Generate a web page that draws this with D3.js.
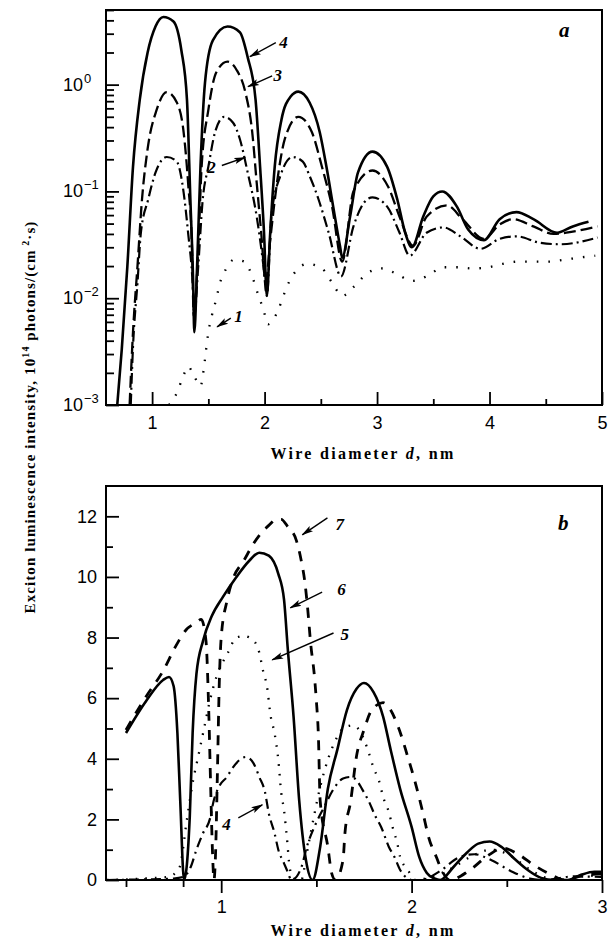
<!DOCTYPE html>
<html>
<head>
<meta charset="utf-8">
<script src="https://cdn.jsdelivr.net/npm/d3@7"></script>
<style>
body { margin: 0; background: #fff; }
text { font-family: "Liberation Sans", Arial, sans-serif; font-size: 18px; fill: #000; }
.title { font-family: "Liberation Serif", "Times New Roman", serif; font-weight: bold; }
.num { font-family: "Liberation Serif", "Times New Roman", serif; font-style: italic; font-weight: bold; font-size: 17px; }
</style>
</head>
<body>
<div id="chart"></div>
<script>
// ---- panel a (log scale), curves 1-4 ----
var aX1 = [1.15,1.22,1.28,1.32,1.37,1.43,1.46,1.48,1.50,1.53,1.57,1.60,1.66,1.73,1.82,1.89,1.94,1.99,2.03,2.12,2.17,2.22,2.30,2.38,2.51,2.60,2.69,2.80,2.91,3.04,3.17,3.31,3.44,3.59,3.72,3.85,3.99,4.12,4.25,4.39,4.52,4.67,4.80,4.94];
var aY1 = [0.001,0.0013,0.0019,0.0023,0.0019,0.0015,0.0022,0.0033,0.0048,0.0068,0.0098,0.0135,0.019,0.023,0.022,0.016,0.011,0.0078,0.0057,0.0077,0.0107,0.0144,0.019,0.021,0.019,0.014,0.0105,0.013,0.017,0.019,0.017,0.0145,0.016,0.0195,0.0195,0.019,0.0195,0.021,0.022,0.022,0.022,0.023,0.024,0.025];

var aX2 = [0.81,0.83,0.87,0.90,0.965,1.03,1.13,1.22,1.28,1.32,1.36,1.375,1.41,1.45,1.50,1.56,1.64,1.72,1.78,1.85,1.93,1.99,2.02,2.06,2.14,2.25,2.34,2.40,2.48,2.57,2.68,2.79,2.91,2.96,3.09,3.20,3.29,3.44,3.59,3.74,3.92,4.09,4.24,4.45,4.63,4.96];
var aY2 = [0.001,0.0035,0.014,0.041,0.084,0.15,0.21,0.19,0.098,0.041,0.014,0.0068,0.02,0.084,0.17,0.36,0.5,0.44,0.31,0.15,0.058,0.02,0.0105,0.058,0.14,0.21,0.19,0.14,0.084,0.041,0.016,0.047,0.084,0.088,0.072,0.041,0.025,0.041,0.046,0.038,0.029,0.036,0.038,0.033,0.032,0.037];

var aX3 = [0.80,0.83,0.87,0.91,0.96,1.04,1.13,1.22,1.28,1.32,1.355,1.37,1.41,1.44,1.50,1.57,1.67,1.75,1.83,1.89,1.93,1.97,2.01,2.05,2.11,2.18,2.30,2.42,2.51,2.60,2.69,2.79,2.96,3.10,3.20,3.32,3.44,3.62,3.76,3.95,4.09,4.21,4.39,4.57,4.74,4.96];
var aY3 = [0.001,0.0048,0.02,0.084,0.25,0.58,0.85,0.68,0.36,0.12,0.029,0.0068,0.029,0.17,0.58,1.3,1.64,1.38,0.84,0.36,0.12,0.041,0.014,0.035,0.12,0.31,0.5,0.36,0.17,0.072,0.022,0.1,0.157,0.11,0.058,0.031,0.058,0.074,0.055,0.036,0.049,0.055,0.047,0.040,0.042,0.047];

var aX4 = [0.69,0.73,0.78,0.83,0.89,0.96,1.03,1.10,1.19,1.26,1.31,1.34,1.365,1.375,1.40,1.43,1.47,1.54,1.67,1.78,1.85,1.92,1.96,1.995,2.02,2.05,2.09,2.15,2.23,2.30,2.40,2.49,2.55,2.61,2.67,2.69,2.76,2.83,2.96,3.09,3.18,3.25,3.31,3.41,3.50,3.58,3.71,3.81,3.95,4.09,4.24,4.39,4.60,4.74,4.88];
var aY4 = [0.001,0.0033,0.020,0.17,0.72,2.0,3.5,4.3,3.9,2.1,0.72,0.085,0.014,0.0048,0.02,0.17,1.04,2.6,3.5,3.1,1.8,0.72,0.17,0.041,0.0105,0.041,0.17,0.47,0.77,0.86,0.68,0.36,0.17,0.072,0.031,0.024,0.058,0.15,0.236,0.17,0.084,0.041,0.030,0.058,0.09,0.1,0.072,0.044,0.035,0.055,0.064,0.055,0.041,0.047,0.052];

// ---- panel b (linear), curves 4-7 ----
var bX4 = [0.4,0.6,0.75,0.80,0.84,0.87,0.905,0.94,0.96,0.99,1.03,1.06,1.13,1.17,1.20,1.23,1.25,1.28,1.30,1.33,1.345,1.37,1.42,1.45,1.50,1.54,1.59,1.64,1.68,1.71,1.74,1.775,1.81,1.84,1.88,1.91,1.94,1.98,2.0,2.05,2.15,2.25,2.33,2.42,2.52,2.62,2.7,2.85,3.0];
var bY4 = [0,0.02,0.05,0.1,0.43,1.0,1.55,2.0,2.6,3.1,3.4,3.7,4.06,3.85,3.4,2.9,2.2,1.55,1.0,0.55,0.33,0,0.4,1.1,1.9,2.4,3.0,3.35,3.4,3.3,3.0,2.6,2.1,1.75,1.1,0.76,0.33,0.05,0,0,0.3,0.75,0.85,0.65,0.3,0.05,0,0.12,0.1];

var bX5 = [0.4,0.6,0.72,0.78,0.82,0.85,0.88,0.91,0.94,0.975,1.035,1.08,1.12,1.17,1.20,1.22,1.24,1.26,1.28,1.30,1.315,1.33,1.345,1.36,1.38,1.42,1.45,1.47,1.52,1.565,1.60,1.64,1.69,1.73,1.77,1.80,1.83,1.85,1.88,1.90,1.925,1.94,1.98,2.02,2.1,2.2,2.32,2.42,2.52,2.62,2.72,2.8,2.9,3.0];
var bY5 = [0,0.05,0.1,0.4,2.0,3.2,4.1,5.0,5.9,6.7,7.5,8.0,8.05,7.9,7.5,6.9,6.4,5.4,4.85,3.96,2.9,2.3,1.4,0.4,0.05,0,0.9,1.55,3.07,4.06,4.6,5.0,5.1,4.9,4.3,3.7,3.25,2.75,2.25,1.75,1.2,0.76,0.33,0,0.1,0.35,0.8,1.0,0.8,0.35,0.05,0,0.12,0.15];

var bX6 = [0.5,0.605,0.695,0.726,0.75,0.77,0.785,0.805,0.835,0.85,0.87,0.905,0.95,1.01,1.08,1.15,1.20,1.25,1.30,1.33,1.35,1.38,1.41,1.445,1.48,1.52,1.56,1.61,1.66,1.71,1.75,1.80,1.85,1.89,1.94,2.0,2.04,2.08,2.12,2.15,2.22,2.29,2.35,2.41,2.47,2.54,2.61,2.68,2.75,2.82,2.89,2.96,3.0];
var bY6 = [4.85,5.9,6.6,6.7,6.4,4.85,2.6,0,2.1,4.85,6.8,7.9,8.7,9.35,10.0,10.55,10.8,10.7,10.1,9.25,7.6,5.4,2.6,0.66,0,1.1,3.0,4.3,5.6,6.3,6.5,6.2,5.4,4.3,3.0,1.75,0.76,0.23,0.05,0,0.43,0.9,1.2,1.27,1.1,0.7,0.33,0.07,0,0,0.17,0.27,0.27];

var bX7 = [0.5,0.605,0.695,0.76,0.815,0.87,0.895,0.92,0.935,0.945,0.955,0.962,0.97,0.98,0.99,1.0,1.03,1.06,1.12,1.17,1.21,1.25,1.29,1.315,1.35,1.395,1.42,1.44,1.455,1.47,1.49,1.5,1.51,1.52,1.56,1.58,1.60,1.64,1.65,1.68,1.71,1.75,1.79,1.85,1.88,1.93,1.98,2.02,2.06,2.09,2.13,2.16,2.2,2.3,2.4,2.48,2.56,2.64,2.74,2.8,2.9,3.0];
var bY7 = [4.95,6.05,6.9,7.7,8.25,8.5,8.6,7.9,5.5,3.0,0.8,0,0.8,3.5,6.5,8.0,9.2,9.9,10.55,11.1,11.45,11.7,11.9,11.9,11.65,11.2,10.55,9.8,8.9,7.8,6.7,5.9,4.85,2.6,1.1,0.23,0,0.66,1.55,2.6,4.06,4.95,5.6,5.85,5.7,5.05,4.06,3.2,2.2,1.4,0.76,0.3,0,0.3,0.8,1.05,0.85,0.5,0.15,0,0.15,0.2];

// ticks
var aXTicks = [1, 2, 3, 4, 5];
var aXMinor = [1.5, 2.5, 3.5, 4.5];
var aYTicks = [0.001, 0.01, 0.1, 1];
var aYExp = ["\u22123", "\u22122", "\u22121", "0"];
var bXTicks = [1, 2, 3];
var bXMinor = [0.5, 0.8, 1.5, 2.5];
var bYTicks = [0, 2, 4, 6, 8, 10, 12];
var bYMinor = [1, 3, 5, 7, 9, 11];

// curve labels: [label, headX, headY, tailX, tailY, textX, textY] in data units
var aNotes = [
	["4", 1.87, 1.83, 2.10, 2.47, 2.13, 2.2],
	["3", 1.853, 0.957, 2.067, 1.21, 2.08, 1.09],
	["2", 1.827, 0.208, 1.62, 0.175, 1.49, 0.15],
	["1", 1.578, 0.0054, 1.70, 0.0065, 1.73, 0.006]
];
var bNotes = [
	["7", 1.426, 11.39, 1.558, 11.95, 1.60, 11.55],
	["6", 1.363, 8.98, 1.53, 9.5, 1.61, 9.4],
	["5", 1.268, 7.26, 1.59, 8.15, 1.626, 7.92],
	["4", 1.216, 2.48, 1.09, 2.05, 1.005, 1.65]
];

function init(){
	var W = 611, H = 945;
	var left = 106, pw = 496;

	var svg = d3.select("#chart")
				.append("svg")
				.attr("width", W)
				.attr("height", H);

	//arrow head
	svg.append("defs").append("marker")
		.attr("id", "arrow")
		.attr("markerUnits", "userSpaceOnUse")
		.attr("viewBox", "0 0 12 8")
		.attr("markerWidth", 12)
		.attr("markerHeight", 8)
		.attr("refX", 11)
		.attr("refY", 4)
		.attr("orient", "auto")
		.append("path")
		.attr("d", "M0,0.8 L12,4 L0,7.2 L2.5,4 z")
		.attr("fill", "#000");

	// ============ panel a ============
	var ha = 395;
	var ga = svg.append("g").attr("transform", "translate(" + left + ",10)");

	var xa = d3.scaleLinear().domain([0.59, 5]).range([0, pw]);
	var ya = d3.scaleLog().domain([0.001, 5]).range([ha, 0]);

	ga.append("clipPath").attr("id", "clipA")
		.append("rect").attr("width", pw).attr("height", ha);

	var lineA = d3.line()
				.x(function(d){ return xa(d[0]); })
				.y(function(d){ return ya(d[1]); })
				.curve(d3.curveMonotoneX);

	var seriesA = [
		{x: aX1, y: aY1, dash: "1.6,10", w: 2.3},
		{x: aX2, y: aY2, dash: "11,4,2,4", w: 2.2},
		{x: aX3, y: aY3, dash: "12,5", w: 2.3},
		{x: aX4, y: aY4, dash: null, w: 2.6}
	];

	ga.append("g").attr("clip-path", "url(#clipA)")
		.selectAll("path")
		.data(seriesA)
		.enter()
		.append("path")
		.attr("d", function(s){ return lineA(d3.zip(s.x, s.y)); })
		.attr("fill", "none")
		.attr("stroke", "#000")
		.attr("stroke-width", function(s){ return s.w; })
		.attr("stroke-dasharray", function(s){ return s.dash; });

	//x ticks point inward (up)
	ga.append("g")
		.attr("transform", "translate(0," + ha + ")")
		.call(d3.axisBottom(xa).tickValues(aXTicks).tickSize(-13).tickPadding(11).tickFormat(d3.format("d")))
		.call(styleAxis);
	ga.append("g")
		.attr("transform", "translate(0," + ha + ")")
		.call(d3.axisBottom(xa).tickValues(aXMinor).tickSize(-6).tickFormat(""))
		.call(styleAxis);

	//y minor ticks 2..9 of each decade
	var minorA = [];
	aYTicks.forEach(function(t){
		for (var k = 2; k <= 9; k++) {
			if (t * k <= 5) minorA.push(t * k);
		}
	});
	ga.append("g")
		.call(d3.axisLeft(ya).tickValues(aYTicks).tickSize(-13).tickFormat(""))
		.call(styleAxis);
	ga.append("g")
		.call(d3.axisLeft(ya).tickValues(minorA).tickSize(-8).tickFormat(""))
		.call(styleAxis);

	//power-of-ten labels
	var yl = ga.append("g").selectAll("text")
				.data(aYTicks)
				.enter()
				.append("text")
				.attr("x", -43)
				.attr("y", function(d){ return ya(d) + 6; });
	yl.append("tspan").text("10");
	yl.append("tspan")
		.attr("dy", -8)
		.attr("dx", 1)
		.style("font-size", "13px")
		.text(function(d, i){ return aYExp[i]; });

	ga.append("rect")
		.attr("width", pw).attr("height", ha)
		.attr("fill", "none").attr("stroke", "#000").attr("stroke-width", 2);

	var ta = svg.append("text").attr("class", "title")
				.attr("x", 363).attr("y", 459)
				.attr("text-anchor", "middle")
				.style("font-size", "16px")
				.style("letter-spacing", "2.3px");
	ta.append("tspan").text("Wire diameter ");
	ta.append("tspan").style("font-style", "italic").text("d");
	ta.append("tspan").text(", nm");

	ga.append("text").attr("class", "num")
		.attr("x", pw - 43).attr("y", 27)
		.style("font-size", "21px")
		.text("a");

	drawNotes(ga, aNotes, xa, ya);

	// ============ panel b ============
	var hb = 394;
	var gb = svg.append("g").attr("transform", "translate(" + left + ",486)");

	var xb = d3.scaleLinear().domain([0.395, 3]).range([0, pw]);
	var yb = d3.scaleLinear().domain([0, 13]).range([hb, 0]);

	gb.append("clipPath").attr("id", "clipB")
		.append("rect").attr("width", pw).attr("height", hb);

	var lineB = d3.line()
				.x(function(d){ return xb(d[0]); })
				.y(function(d){ return yb(d[1]); })
				.curve(d3.curveMonotoneX);

	var seriesB = [
		{x: bX4, y: bY4, dash: "10,5,2,5", w: 2.2},
		{x: bX5, y: bY5, dash: "1.6,8", w: 2.3},
		{x: bX7, y: bY7, dash: "10,9", w: 2.8},
		{x: bX6, y: bY6, dash: null, w: 2.6}
	];

	gb.append("g").attr("clip-path", "url(#clipB)")
		.selectAll("path")
		.data(seriesB)
		.enter()
		.append("path")
		.attr("d", function(s){ return lineB(d3.zip(s.x, s.y)); })
		.attr("fill", "none")
		.attr("stroke", "#000")
		.attr("stroke-width", function(s){ return s.w; })
		.attr("stroke-dasharray", function(s){ return s.dash; });

	//x ticks point outward (down)
	gb.append("g")
		.attr("transform", "translate(0," + hb + ")")
		.call(d3.axisBottom(xb).tickValues(bXTicks).tickSize(13).tickPadding(7).tickFormat(d3.format("d")))
		.call(styleAxis);
	gb.append("g")
		.attr("transform", "translate(0," + hb + ")")
		.call(d3.axisBottom(xb).tickValues(bXMinor).tickSize(7).tickFormat(""))
		.call(styleAxis);

	gb.append("g")
		.call(d3.axisLeft(yb).tickValues(bYTicks).tickSize(-13).tickPadding(9))
		.call(styleAxis);
	gb.append("g")
		.call(d3.axisLeft(yb).tickValues(bYMinor).tickSize(-7).tickFormat(""))
		.call(styleAxis);

	gb.append("rect")
		.attr("width", pw).attr("height", hb)
		.attr("fill", "none").attr("stroke", "#000").attr("stroke-width", 2);

	var tb = svg.append("text").attr("class", "title")
				.attr("x", 363).attr("y", 936)
				.attr("text-anchor", "middle")
				.style("font-size", "16px")
				.style("letter-spacing", "2.3px");
	tb.append("tspan").text("Wire diameter ");
	tb.append("tspan").style("font-style", "italic").text("d");
	tb.append("tspan").text(", nm");

	gb.append("text").attr("class", "num")
		.attr("x", pw - 44).attr("y", 44)
		.style("font-size", "21px")
		.text("b");

	drawNotes(gb, bNotes, xb, yb);

	//shared y title
	var yt = svg.append("text").attr("class", "title")
				.attr("transform", "translate(35,417) rotate(-90)")
				.attr("text-anchor", "middle")
				.style("font-size", "15px")
				.style("letter-spacing", "1.1px");
	yt.append("tspan").text("Exciton luminescence intensity, 10");
	yt.append("tspan").attr("dy", -6).style("font-size", "10px").text("14");
	yt.append("tspan").attr("dy", 6).text(" photons/(cm");
	yt.append("tspan").attr("dy", -6).style("font-size", "10px").text(" 2");
	yt.append("tspan").attr("dy", 6).text("\u00b7s)");
}

function styleAxis(g){
	g.select(".domain").remove();
	g.selectAll(".tick line").attr("stroke", "#000").attr("stroke-width", 1.8);
	g.selectAll(".tick text")
		.style("font-family", "'Liberation Sans', Arial, sans-serif")
		.style("font-size", "18px");
}

function drawNotes(g, notes, x, y){
	g.selectAll("line.note")
		.data(notes)
		.enter()
		.append("line")
		.attr("class", "note")
		.attr("x1", function(d){ return x(d[3]); })
		.attr("y1", function(d){ return y(d[4]); })
		.attr("x2", function(d){ return x(d[1]); })
		.attr("y2", function(d){ return y(d[2]); })
		.attr("stroke", "#000")
		.attr("stroke-width", 1.4)
		.attr("marker-end", "url(#arrow)");
	g.selectAll("text.note")
		.data(notes)
		.enter()
		.append("text")
		.attr("class", "num note")
		.attr("x", function(d){ return x(d[5]); })
		.attr("y", function(d){ return y(d[6]); })
		.text(function(d){ return d[0]; });
}

window.onload = init;
</script>
</body>
</html>
